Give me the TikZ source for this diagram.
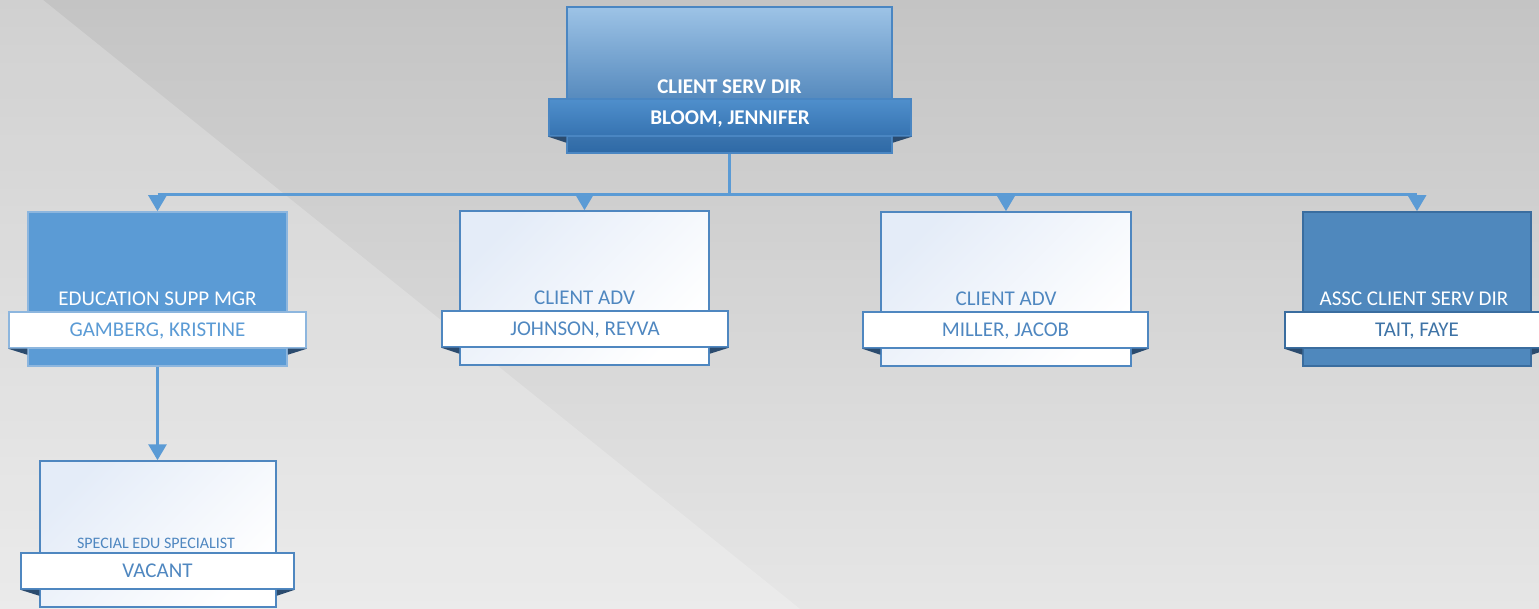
\documentclass[tikz,border=0pt]{standalone}
\usepackage{fontspec}
\setmainfont{Carlito}
\usetikzlibrary{arrows.meta,calc}
\definecolor{bgtop}{HTML}{C4C4C4}
\definecolor{bgbot}{HTML}{E6E6E6}
\definecolor{conn}{HTML}{5B9BD5}
\definecolor{topA}{HTML}{9DC3E6}
\definecolor{topB}{HTML}{5B9BD5}
\definecolor{topC}{HTML}{2D69A6}
\definecolor{topline}{HTML}{4A86C2}
\definecolor{bandA}{HTML}{4F8FCC}
\definecolor{bandB}{HTML}{3673B1}
\definecolor{steel}{HTML}{4F87C0}
\definecolor{cardlt}{HTML}{E4ECF8}
\definecolor{midblue}{HTML}{5B9BD5}
\definecolor{midline}{HTML}{8DB6DE}
\definecolor{darkcard}{HTML}{4F88BD}
\definecolor{darkline}{HTML}{3A6D9F}
\definecolor{darktext}{HTML}{3E73A6}
\definecolor{foldc}{HTML}{2B4B6E}
\begin{document}
\begin{tikzpicture}[x=1pt,y=-1pt,
  connector/.style={draw=conn,line width=3pt},
  tip/.style={-{Triangle[width=18pt,length=16pt]}},
  card/.style={rectangle,inner sep=0pt,line width=1.5pt},
  topcard/.style={card,draw=topline,top color=topA,middle color=topB,bottom color=topC},
  topband/.style={card,draw=topline,top color=bandA,bottom color=bandB,text=white,font=\fontsize{21}{21}\selectfont\bfseries,text height=13.5pt,text depth=0pt},
  litecard/.style={card,draw=steel,top color=cardlt,bottom color=white,shading angle=45},
  liteband/.style={card,draw=steel,fill=white,text=steel,font=\fontsize{21}{21}\selectfont,text height=13.5pt,text depth=0pt},
  educard/.style={card,draw=midline,fill=midblue},
  eduband/.style={card,draw=midline,fill=white,text=midblue,font=\fontsize{21}{21}\selectfont,text height=13.5pt,text depth=0pt},
  asscard/.style={card,draw=darkline,fill=darkcard},
  assband/.style={card,draw=darkline,fill=white,text=darktext,font=\fontsize{21}{21}\selectfont,text height=13.5pt,text depth=0pt},
  title/.style={inner sep=0pt,font=\fontsize{21}{21}\selectfont,text height=13.5pt,text depth=0pt},
  smalltitle/.style={inner sep=0pt,font=\fontsize{16}{16}\selectfont,text height=10.3pt,text depth=0pt},
  fold/.style={fill=foldc}
]
\useasboundingbox (0,0) rectangle (1539,609);
% background
\fill[top color=bgtop,bottom color=bgbot] (0,0) rectangle (1539,609);
\fill[white,opacity=0.22] (0,0) -- (43,0) -- (800,609) -- (0,609) -- cycle;

% cards
\node[topcard,minimum width=325pt,minimum height=146pt] (top) at (729.5,80) {};
\node[educard,minimum width=259pt,minimum height=154pt] (edu) at (157.5,289) {};
\node[litecard,minimum width=249pt,minimum height=154pt] (joh) at (584.5,288) {};
\node[litecard,minimum width=250pt,minimum height=154pt] (mil) at (1006,289) {};
\node[asscard,minimum width=228pt,minimum height=154pt] (tai) at (1417,289) {};
\node[litecard,minimum width=236pt,minimum height=146pt] (spe) at (158,534) {};

% connectors
\coordinate (bus) at (0,195);
\draw[connector] (top.south) -- (top.south |- bus);
\draw[connector] (edu.north |- bus) -- (tai.north |- bus);
\draw[connector,tip] (edu.north |- bus) -- (edu.north);
\draw[connector,tip] (joh.north |- bus) -- (joh.north);
\draw[connector,tip] (mil.north |- bus) -- (mil.north);
\draw[connector,tip] (tai.north |- bus) -- (tai.north);
\draw[connector,tip] (edu.south) -- (edu.south |- spe.north);

% bands
\node[topband,minimum width=362pt,minimum height=37pt] (topb) at (730,117.5) {BLOOM, JENNIFER};
\node[eduband,minimum width=297pt,minimum height=36pt] (edub) at (157.5,330) {GAMBERG, KRISTINE};
\node[liteband,minimum width=286pt,minimum height=36pt] (johb) at (585,329) {JOHNSON, REYVA};
\node[liteband,minimum width=285pt,minimum height=36pt] (milb) at (1005.5,330) {MILLER, JACOB};
\node[assband,minimum width=264pt,minimum height=36pt] (taib) at (1417,330) {TAIT, FAYE};
\node[liteband,minimum width=273pt,minimum height=36pt] (speb) at (157.5,571) {VACANT};

% folds
\foreach \c/\b in {top/topb,edu/edub,joh/johb,mil/milb,tai/taib,spe/speb}{
  \fill[fold] (\b.south west) -- (\c.west |- \b.south) -- ($(\c.west |- \b.south)+(0,6)$) -- cycle;
  \fill[fold] (\b.south east) -- (\c.east |- \b.south) -- ($(\c.east |- \b.south)+(0,6)$) -- cycle;
}

% titles
\node[title,text=white,font=\fontsize{21}{21}\selectfont\bfseries] (topt) at (729.5,87) {CLIENT SERV DIR};
\node[title,text=white] (edut) at (157.5,299) {EDUCATION SUPP MGR};
\node[title,text=steel] (joht) at (584.5,298) {CLIENT ADV};
\node[title,text=steel] (milt) at (1006,299) {CLIENT ADV};
\node[title,text=white] (tait) at (1414,299) {ASSC CLIENT SERV DIR};
\node[smalltitle,text=steel] (spet) at (156,543) {SPECIAL EDU SPECIALIST};
\end{tikzpicture}
\end{document}
